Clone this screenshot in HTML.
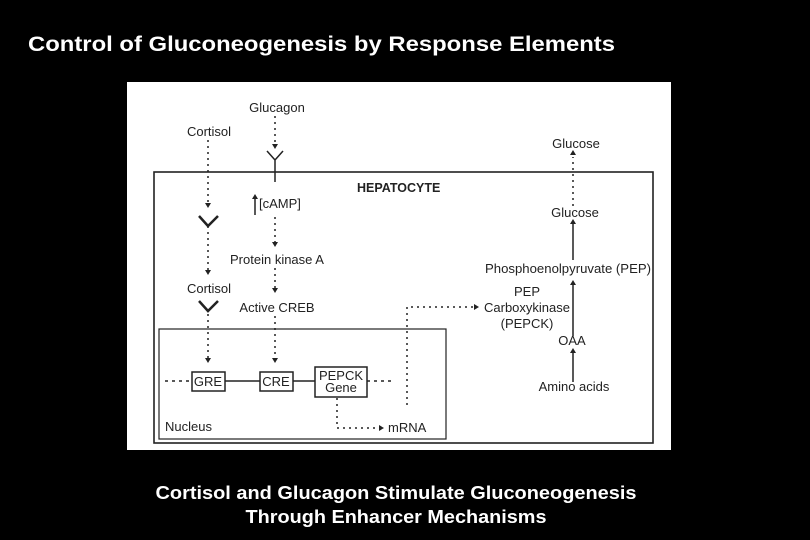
<!DOCTYPE html>
<html><head><meta charset="utf-8"><style>
html,body{margin:0;padding:0;background:#000;width:810px;height:540px;overflow:hidden}
svg{display:block}
</style></head><body>
<svg width="810" height="540" viewBox="0 0 810 540" xmlns="http://www.w3.org/2000/svg" font-family="Liberation Sans, Arial, sans-serif">
<rect width="810" height="540" fill="#000"/>
<text x="28" y="51" fill="#fff" font-size="21" font-weight="bold" textLength="587" lengthAdjust="spacingAndGlyphs">Control of Gluconeogenesis by Response Elements</text>
<rect x="127" y="82" width="544" height="368" fill="#fff"/>
<g stroke="#222" fill="none">
<rect x="154" y="172" width="499" height="271" stroke-width="1.6"/>
<rect x="159" y="329" width="287" height="110" stroke-width="1.2"/>
</g>
<g fill="#222" font-size="13">
<text x="277" y="112" text-anchor="middle">Glucagon</text>
<text x="209" y="136" text-anchor="middle">Cortisol</text>
<text x="357" y="192" font-weight="bold" font-size="12.5">HEPATOCYTE</text>
<text x="259" y="208">[cAMP]</text>
<text x="277" y="264" text-anchor="middle">Protein kinase A</text>
<text x="209" y="293" text-anchor="middle">Cortisol</text>
<text x="277" y="312" text-anchor="middle">Active CREB</text>
<text x="208" y="386" text-anchor="middle">GRE</text>
<text x="276" y="386" text-anchor="middle">CRE</text>
<text x="341" y="380" text-anchor="middle">PEPCK</text>
<text x="341" y="392" text-anchor="middle">Gene</text>
<text x="165" y="431">Nucleus</text>
<text x="388" y="432">mRNA</text>
<text x="576" y="148" text-anchor="middle">Glucose</text>
<text x="575" y="217" text-anchor="middle">Glucose</text>
<text x="568" y="273" text-anchor="middle" textLength="166" lengthAdjust="spacingAndGlyphs">Phosphoenolpyruvate (PEP)</text>
<text x="527" y="296" text-anchor="middle">PEP</text>
<text x="527" y="312" text-anchor="middle">Carboxykinase</text>
<text x="527" y="328" text-anchor="middle">(PEPCK)</text>
<text x="572" y="345" text-anchor="middle">OAA</text>
<text x="574" y="391" text-anchor="middle">Amino acids</text>
</g>
<g stroke="#222" stroke-width="1.5" fill="none">
<path d="M208 140V205M208 226V272M208 314V360M275 116V146M275 217V244M275 268V290M275 316V360M407 405V307H476M337 398V428H380M573 206V157" stroke-dasharray="2 4"/>
<path d="M199 216L208 226L218 216M199 301L208 311L218 301" stroke-width="2.5"/>
<path d="M267 151L275 160L283 151M275 160V182M255 215V197M573 260V222M573 336V283M573 382V351"/>
<path d="M225 381H260M293 381H315"/>
<path d="M165 381H192M367 381H395" stroke-dasharray="3 4"/>
<rect x="192" y="372" width="33" height="19"/>
<rect x="260" y="372" width="33" height="19"/>
<rect x="315" y="367" width="52" height="30"/>
</g>
<g fill="#222">
<path d="M205 203h6l-3 5zM205 270h6l-3 5zM205 358h6l-3 5zM272 144h6l-3 5zM272 242h6l-3 5zM272 288h6l-3 5zM272 358h6l-3 5z"/>
<path d="M252 199h6l-3 -5zM570 224h6l-3 -5zM570 155h6l-3 -5zM570 285h6l-3 -5zM570 353h6l-3 -5z"/>
<path d="M474 304v6l5 -3zM379 425v6l5 -3z"/>
</g>
<g fill="#fff" font-size="18" font-weight="bold" text-anchor="middle">
<text x="396" y="499" textLength="481" lengthAdjust="spacingAndGlyphs">Cortisol and Glucagon Stimulate Gluconeogenesis</text>
<text x="396" y="523" textLength="301" lengthAdjust="spacingAndGlyphs">Through Enhancer Mechanisms</text>
</g>
</svg>
</body></html>
